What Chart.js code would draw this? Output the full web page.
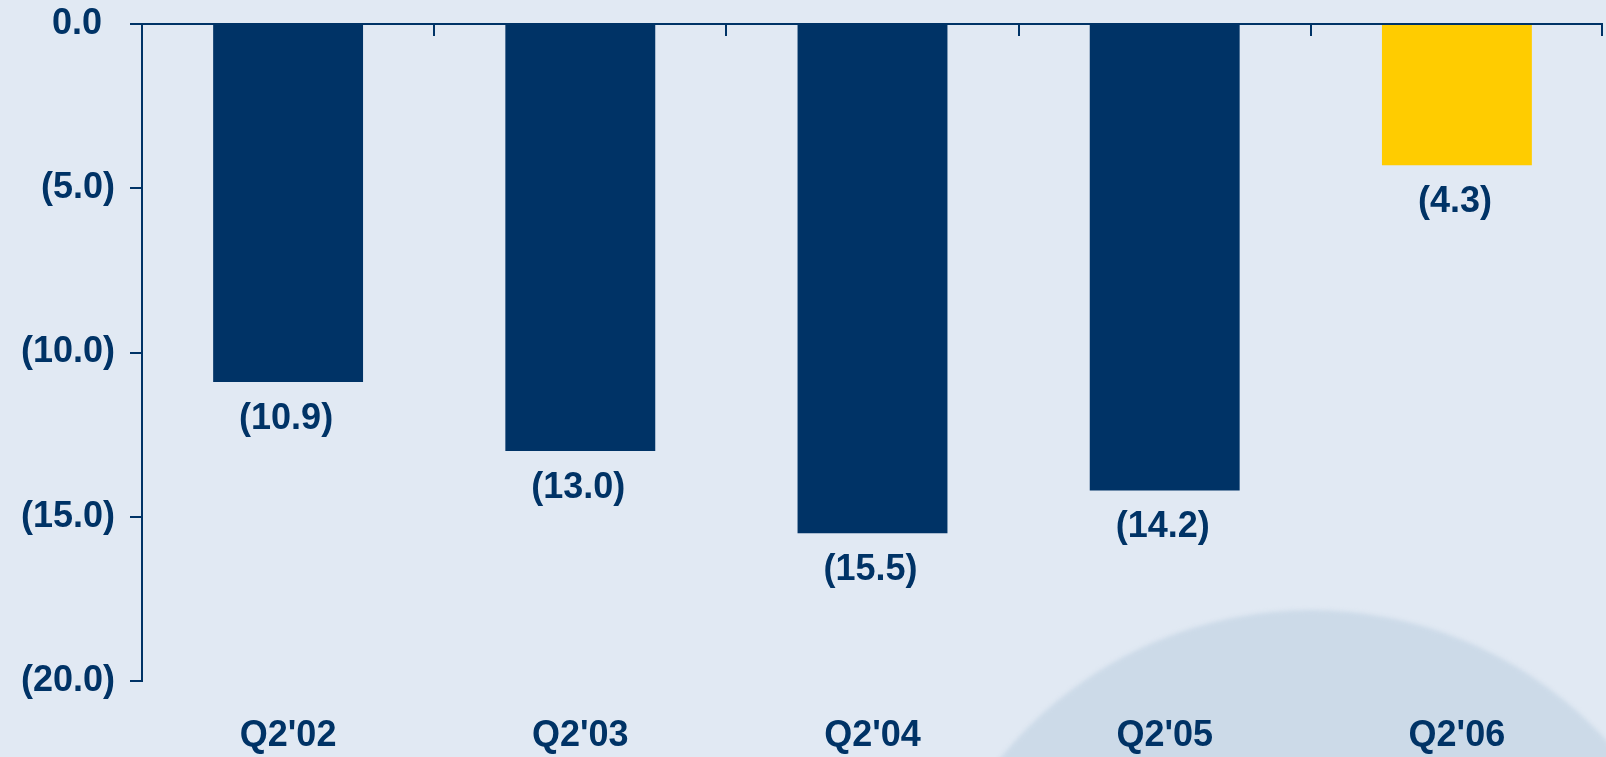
<!DOCTYPE html>
<html>
<head>
<meta charset="utf-8">
<script src="https://cdn.jsdelivr.net/npm/chart.js@4/dist/chart.umd.min.js"></script>
<style>
  html, body { margin: 0; padding: 0; overflow: hidden; background: #e1e9f3; }
  #wrap { position: relative; width: 1606px; height: 757px; }
  #disc {
    position: absolute; left: 911px; top: 610px; width: 800px; height: 800px;
    border-radius: 50%; background: #ccdae8; filter: blur(2px);
  }
  canvas { position: absolute; left: 0; top: 0; }
</style>
</head>
<body>
<div id="wrap">
  <div id="disc"></div>
  <canvas id="chart"></canvas>
</div>
<script>
var quarters = ["Q2'02", "Q2'03", "Q2'04", "Q2'05", "Q2'06"];
var values = [-10.9, -13.0, -15.5, -14.2, -4.3];
var barColors = ['#003366', '#003366', '#003366', '#003366', '#ffcc00'];
var yTicks = [0, -5, -10, -15, -20];

var navy = '#003366';
var font = { family: '"Liberation Sans", Arial, sans-serif', size: 36, weight: 'bold' };

// negatives in brackets; zero gets a trailing gap so the digits line up
function fmt(v) {
    if (v === 0) return '0.0 \u200a';
    return '(' + Math.abs(v).toFixed(1) + ')';
}

// horizontal axis line at zero with ticks hanging down at the category edges
var zeroAxis = {
    id: 'zeroAxis',
    afterDraw: function(chart) {
        var ctx = chart.ctx;
        var x = chart.scales.x;
        var y0 = chart.scales.y.getPixelForValue(0);
        var step = x.getPixelForValue(1) - x.getPixelForValue(0);
        ctx.save();
        ctx.strokeStyle = navy;
        ctx.lineWidth = 2;
        ctx.beginPath();
        ctx.moveTo(chart.chartArea.left - 12, y0);
        ctx.lineTo(chart.chartArea.right, y0);
        for (var i = 0; i <= quarters.length; i++) {
            var px = Math.round(x.getPixelForValue(0) - step / 2 + i * step);
            if (i === quarters.length) px -= 1;
            ctx.moveTo(px, y0);
            ctx.lineTo(px, y0 + 12);
        }
        ctx.stroke();
        ctx.restore();
    }
};

// value labels below each bar end
var barLabels = {
    id: 'barLabels',
    afterDatasetsDraw: function(chart) {
        var ctx = chart.ctx;
        var meta = chart.getDatasetMeta(0);
        ctx.save();
        ctx.font = 'bold 36px "Liberation Sans", Arial, sans-serif';
        ctx.fillStyle = navy;
        ctx.textAlign = 'center';
        ctx.textBaseline = 'middle';
        meta.data.forEach(function(bar, i) {
            ctx.fillText(fmt(values[i]), bar.x - 2, bar.y + 37);
        });
        ctx.restore();
    }
};

var chart = new Chart(document.getElementById('chart'), {
    type: 'bar',
    data: {
        labels: quarters,
        datasets: [{
            data: values,
            backgroundColor: barColors,
            borderWidth: 0,
            categoryPercentage: 1,
            barPercentage: 0.513
        }]
    },
    options: {
        responsive: true,
        maintainAspectRatio: false,
        animation: false,
        layout: { padding: { top: 24, right: 3, left: 0, bottom: 0 } },
        plugins: { legend: { display: false }, tooltip: { enabled: false } },
        scales: {
            x: {
                grid: { display: false, drawTicks: false },
                border: { display: false },
                ticks: { color: navy, font: font, padding: 33, maxRotation: 0 },
                afterFit: function(s) { s.height = 76; s.paddingLeft = 0; s.paddingRight = 0; }
            },
            y: {
                min: -20,
                max: 0,
                afterBuildTicks: function(s) {
                    s.ticks = yTicks.map(function(v) { return { value: v }; });
                },
                grid: { drawOnChartArea: false, drawTicks: true, tickLength: 12, color: navy, lineWidth: 2 },
                border: { display: true, color: navy, width: 2 },
                ticks: {
                    color: navy, font: font, padding: 15,
                    callback: function(v) { return fmt(v); }
                },
                // labels may overhang the plot; keep the plot edges fixed
                afterFit: function(s) { s.width = 142; s.paddingTop = 0; s.paddingBottom = 0; }
            }
        }
    },
    plugins: [zeroAxis, barLabels]
});
</script>
</body>
</html>
